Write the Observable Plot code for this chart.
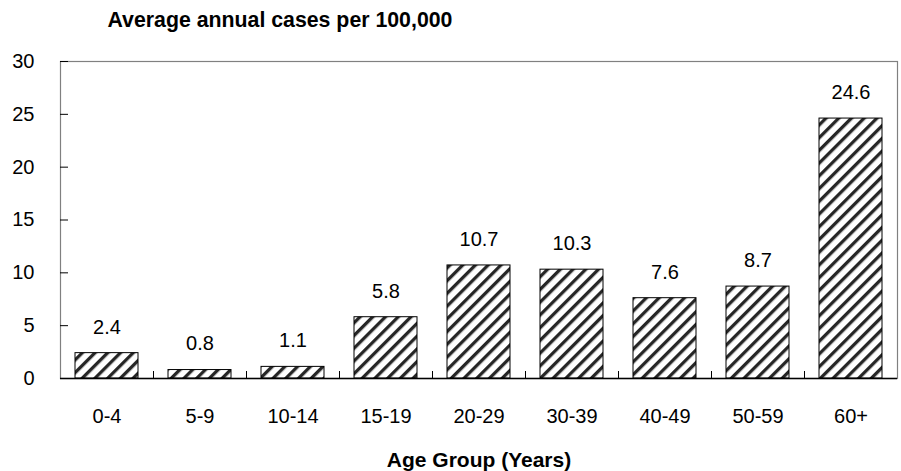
<!DOCTYPE html>
<html>
<head>
<meta charset="utf-8">
<script src="https://cdn.jsdelivr.net/npm/d3@7"></script>
<script src="https://cdn.jsdelivr.net/npm/@observablehq/plot@0.6"></script>
<style>
  body { margin: 0; background: #fff; }
  svg { font-family: Arial, "Liberation Sans", sans-serif; }
</style>
</head>
<body>
<div id="chart"></div>
<script>
const ageGroups = ["0-4", "5-9", "10-14", "15-19", "20-29", "30-39", "40-49", "50-59", "60+"];
const rates = [2.4, 0.8, 1.1, 5.8, 10.7, 10.3, 7.6, 8.7, 24.6];
const yTicks = [0, 5, 10, 15, 20, 25, 30];
const titleText = "Average annual cases per 100,000";
const xTitle = "Age Group (Years)";

const data = ageGroups.map((g, i) => ({group: g, rate: rates[i], label: rates[i].toFixed(1)}));

const W = 901, H = 471, mL = 60, mR = 4, mT = 61, mB = 93;
const pad = 0.326;
const step = (W - mL - mR) / ageGroups.length;
const plotH = H - mT - mB;

const defs = () => {
  const d = d3.create("svg:defs");
  const p = d.append("pattern")
    .attr("id", "hatch")
    .attr("patternUnits", "userSpaceOnUse")
    .attr("width", 9).attr("height", 9)
    .attr("patternTransform", "rotate(45)");
  p.append("rect").attr("width", 9).attr("height", 9).attr("fill", "#fff");
  p.append("rect").attr("x", 0).attr("width", 3.3).attr("height", 9).attr("fill", "#262626");
  return d.node();
};

const chart = Plot.plot({
  width: W, height: H,
  marginLeft: mL, marginRight: mR, marginTop: mT, marginBottom: mB,
  style: {fontFamily: "Arial, 'Liberation Sans', sans-serif", fontSize: "20px", color: "#000", background: "#fff"},
  x: {domain: ageGroups, paddingInner: pad, paddingOuter: pad / 2, label: null},
  y: {domain: [0, 30], label: null},
  marks: [
    defs,
    Plot.frame({stroke: "#808080", strokeWidth: 1.2}),
    Plot.barY(data, {x: "group", y: "rate", fill: "url(#hatch)", stroke: "#000", strokeWidth: 1}),
    Plot.ruleY(yTicks, {y: d => d, stroke: "#000", insetRight: W - mL - mR - 8}),
    Plot.ruleX(ageGroups.slice(0, -1), {x: d => d, dx: step / 2, stroke: "#000", insetTop: plotH - 7}),
    Plot.ruleX([0], {frameAnchor: "left", stroke: "#000", strokeWidth: 1.5}),
    Plot.ruleY([0], {stroke: "#000", strokeWidth: 1.5}),
    Plot.axisY({ticks: yTicks, tickSize: 0, tickPadding: 26, label: null, fontSize: 20}),
    Plot.axisX({tickSize: 0, tickPadding: 30, label: null, fontSize: 20}),
    Plot.text(data, {x: "group", y: "rate", text: "label", dy: -26, fontSize: 20, fill: "#000"}),
    Plot.text([xTitle], {frameAnchor: "bottom", lineAnchor: "middle", dy: 82, fontWeight: "bold", fontSize: 21, fill: "#000"}),
    Plot.text([titleText], {frameAnchor: "top-left", lineAnchor: "middle", textAnchor: "start", dx: 47, dy: -41, fontWeight: "bold", fontSize: 21.3, fill: "#000"})
  ]
});
document.getElementById("chart").append(chart);
</script>
</body>
</html>
